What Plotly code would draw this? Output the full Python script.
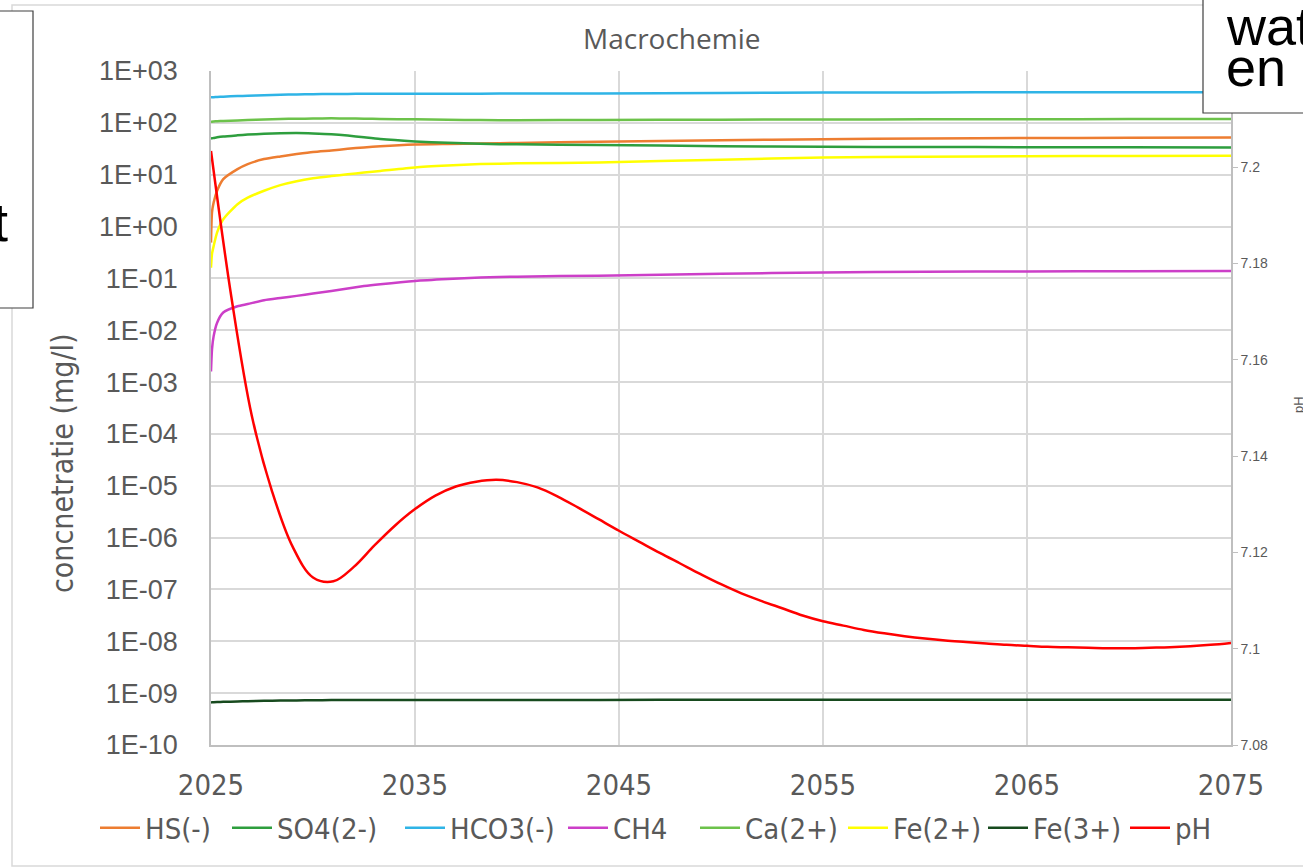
import plotly.graph_objects as go

# ---------------- data ----------------
years = [2025, 2025.05, 2025.13, 2025.3, 2025.6, 2026.3, 2026.8, 2027.6, 2028.4, 2029.2,
         2030.0, 2030.9, 2031.7, 2032.5, 2033.3, 2035, 2036.6, 2038.2, 2040, 2044,
         2050, 2055, 2060, 2065, 2070, 2075]

hs = [0.49, 1.9, 2.9, 4.9, 8.2, 12.8, 16, 20, 22.5, 25, 27.5, 29.4, 31.5, 33.6, 35.5, 38.4,
      39.3, 40, 41, 43, 46, 48.5, 50, 51, 51.5, 52]
so4 = [50, 50.5, 51, 52.5, 54.5, 57.5, 59.5, 61.5, 62.8, 63.4, 62.5, 60.5, 57, 52.5, 48.6,
       43.9, 41.2, 39.4, 38.5, 37.5, 35.5, 34.5, 34.2, 34, 33.8, 33.6]
hco3 = [310, 311, 312, 315, 320, 328, 334, 342, 349, 354, 358, 360, 362, 363, 364, 365,
        365.5, 366, 367, 370, 378, 383, 386, 388, 389, 390]
ch4 = [0.0016, 0.0043, 0.0077, 0.014, 0.022, 0.029, 0.032, 0.038, 0.042, 0.046, 0.051,
       0.057, 0.064, 0.071, 0.077, 0.089, 0.097, 0.104, 0.108, 0.113, 0.123, 0.13, 0.134,
       0.136, 0.138, 0.139]
ca = [105, 105.5, 106, 107.5, 109, 111, 113, 116, 118.5, 120, 121, 122, 121.5, 120.5, 119,
      117, 115, 113, 112.5, 114, 115, 116, 117, 117.5, 118, 118]
fe2 = [0.161, 0.3, 0.42, 0.77, 1.38, 2.7, 3.6, 4.9, 6.3, 7.5, 8.5, 9.4, 10.2, 11, 11.8,
       13.8, 15, 16, 16.6, 17.2, 19.5, 21.5, 22.2, 22.7, 23, 23.1]
fe3 = [6.6e-10, 6.65e-10, 6.7e-10, 6.75e-10, 6.8e-10, 6.9e-10, 7.0e-10, 7.1e-10, 7.2e-10,
       7.25e-10, 7.3e-10, 7.35e-10, 7.35e-10, 7.35e-10, 7.35e-10, 7.35e-10, 7.35e-10,
       7.35e-10, 7.35e-10, 7.4e-10, 7.45e-10, 7.45e-10, 7.5e-10, 7.5e-10, 7.5e-10, 7.5e-10]

ph_years = [2025, 2026, 2027, 2028, 2029, 2030, 2031, 2032, 2033, 2034, 2035, 2036, 2037,
            2038, 2039, 2040, 2041, 2042, 2043, 2044, 2045, 2046, 2047, 2048, 2049, 2050,
            2051, 2052, 2053, 2054, 2055, 2056, 2057, 2058, 2059, 2060, 2061, 2062, 2063,
            2064, 2065, 2066, 2067, 2068, 2069, 2070, 2071, 2072, 2073, 2074, 2075]
ph = [7.2034, 7.1730, 7.1484, 7.1326, 7.1212, 7.1148, 7.1140, 7.1170, 7.1214, 7.1255,
      7.1290, 7.1318, 7.1337, 7.1347, 7.1351, 7.1346, 7.1335, 7.1316, 7.1293, 7.1269,
      7.1245, 7.1222, 7.1199, 7.1177, 7.1155, 7.1134, 7.1115, 7.1099, 7.1084, 7.1069,
      7.1057, 7.1048, 7.1039, 7.1032, 7.1026, 7.1021, 7.1017, 7.1014, 7.1011, 7.1008,
      7.1006, 7.1004, 7.1003, 7.1002, 7.1001, 7.1001, 7.1002, 7.1003, 7.1005, 7.1008,
      7.1012]

series_names = ["HS(-)", "SO4(2-)", "HCO3(-)", "CH4", "Ca(2+)", "Fe(2+)", "Fe(3+)"]
series_values = [hs, so4, hco3, ch4, ca, fe2, fe3]
series_colors = ["#ED7D31", "#2E9E3E", "#2FB4E6", "#CC3FC8", "#6CC24A", "#FFFF00", "#174A1E"]

y_tickvals = [10.0 ** e for e in range(-10, 4)]
y_ticktext = ["1E-10", "1E-09", "1E-08", "1E-07", "1E-06", "1E-05", "1E-04", "1E-03",
              "1E-02", "1E-01", "1E+00", "1E+01", "1E+02", "1E+03"]
x_ticks = [2025, 2035, 2045, 2055, 2065, 2075]
ph_ticks = [7.08, 7.10, 7.12, 7.14, 7.16, 7.18, 7.20]
ph_ticktext = ["7.08", "7.1", "7.12", "7.14", "7.16", "7.18", "7.2"]

# ---------------- figure ----------------
W, H = 1303, 867
L, R, T, B = 211, 72, 71, 122
PW, PH = W - L - R, H - T - B


def px(x):
    return (x - L) / PW


def py(y):
    return 1 - (y - T) / PH


GREY = "#595959"
NARROW = "Liberation Sans Narrow, Arial Narrow, DejaVu Sans Condensed, sans-serif"
NORMAL = "Liberation Sans, Arial, sans-serif"

# left pixel position of each legend entry (layout only)
legend_px = [100, 232, 405, 568, 700, 848, 988, 1130]
legend_keys = ["legend"] + ["legend%d" % (i + 2) for i in range(7)]

fig = go.Figure()
for i, (name, vals, col) in enumerate(zip(series_names, series_values, series_colors)):
    fig.add_trace(go.Scatter(x=years, y=vals, name=name, mode="lines", legend=legend_keys[i],
                             line=dict(color=col, width=2.5, shape="spline", smoothing=0.6)))
fig.add_trace(go.Scatter(x=ph_years, y=ph, name="pH", mode="lines", yaxis="y2",
                         legend=legend_keys[7],
                         line=dict(color="#FF0000", width=2.5, shape="spline", smoothing=1.0)))

legend_layout = {}
for key, lx in zip(legend_keys, legend_px):
    legend_layout[key] = dict(orientation="h", x=px(lx - 5), xanchor="left", y=py(828),
                              yanchor="middle", font=dict(family=NARROW, size=29, color=GREY),
                              itemwidth=40, bgcolor="rgba(0,0,0,0)")

fig.update_layout(
    width=W, height=H, autosize=False,
    margin=dict(l=L, r=R, t=T, b=B),
    paper_bgcolor="white", plot_bgcolor="white",
    showlegend=True,
    xaxis=dict(range=[2025, 2075], tickvals=x_ticks, showgrid=True, gridcolor="#D9D9D9",
               gridwidth=1.5, zeroline=False, showline=True, linecolor="#BFBFBF",
               linewidth=1.5, ticks="", tickfont=dict(family=NARROW, size=29, color=GREY),
               ticklabelstandoff=13, mirror=False),
    yaxis=dict(type="log", range=[-10, 3], tickvals=y_tickvals, ticktext=y_ticktext,
               showgrid=True, gridcolor="#D9D9D9", gridwidth=1.5, zeroline=False,
               showline=True, linecolor="#BFBFBF", linewidth=1.5, ticks="",
               tickfont=dict(family=NORMAL, size=27, color=GREY), ticklabelstandoff=26),
    yaxis2=dict(overlaying="y", side="right", range=[7.08, 7.22], tickvals=ph_ticks,
                ticktext=ph_ticktext, showgrid=False, zeroline=False, showline=True,
                linecolor="#BFBFBF", linewidth=1.5, ticks="outside", ticklen=5,
                tickcolor="#BFBFBF", tickfont=dict(family=NORMAL, size=14, color=GREY)),
    **legend_layout,
)

# outer chart border
fig.add_shape(type="rect", xref="paper", yref="paper", x0=px(12), x1=px(1320), y0=py(866),
              y1=py(5), line=dict(color="#D9D9D9", width=1.5), fillcolor="rgba(0,0,0,0)",
              layer="below")

# title
fig.add_annotation(text="Macrochemie", xref="paper", yref="paper", x=px(671), y=py(38),
                   xanchor="center", yanchor="middle", showarrow=False,
                   font=dict(family="Open Sans, sans-serif", size=28, color=GREY))
# y axis titles
fig.add_annotation(text="concnetratie (mg/l)", xref="paper", yref="paper", x=px(62),
                   y=py(463), xanchor="center", yanchor="middle", showarrow=False,
                   textangle=-90, font=dict(family=NARROW, size=30, color=GREY))
fig.add_annotation(text="pH", xref="paper", yref="paper", x=px(1298), y=py(405),
                   xanchor="center", yanchor="middle", showarrow=False,
                   textangle=-90, font=dict(family=NORMAL, size=13, color=GREY))

# overlay text boxes (cropped in the reference)
fig.add_shape(type="rect", xref="paper", yref="paper", x0=px(-5), x1=px(33), y0=py(308),
              y1=py(11), line=dict(color="#404040", width=1.2), fillcolor="white",
              layer="above")
fig.add_shape(type="rect", xref="paper", yref="paper", x0=px(1203), x1=px(1320),
              y0=py(113), y1=py(-10), line=dict(color="#404040", width=1.2),
              fillcolor="white", layer="above")
fig.add_annotation(text="t", xref="paper", yref="paper", x=px(10), y=py(222),
                   xanchor="right", yanchor="middle", showarrow=False,
                   font=dict(family=NORMAL, size=54, color="black"))
fig.add_annotation(text="wat", xref="paper", yref="paper", x=px(1224), y=py(26),
                   xanchor="left", yanchor="middle", showarrow=False,
                   font=dict(family=NORMAL, size=54, color="black"))
fig.add_annotation(text="en", xref="paper", yref="paper", x=px(1224), y=py(67),
                   xanchor="left", yanchor="middle", showarrow=False,
                   font=dict(family=NORMAL, size=54, color="black"))

fig.write_html("out.html", config={"displayModeBar": False},
               post_script="document.body.style.margin='0';document.body.style.padding='0';"
                           "document.documentElement.style.overflow='hidden';")
